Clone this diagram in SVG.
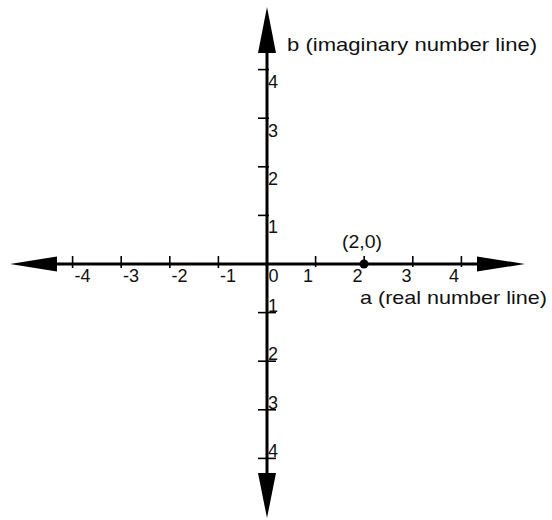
<svg xmlns="http://www.w3.org/2000/svg" width="552" height="520" viewBox="0 0 552 520">
<style>
.axis{stroke:#000;stroke-width:3;fill:none}
.tick{stroke:#000;stroke-width:1.6;fill:none}
.head{fill:#000;stroke:none}
text{font-family:"Liberation Sans","DejaVu Sans",Arial,sans-serif;fill:#111}
.num{font-size:18px}
.lbl{font-size:19px}
</style>
<rect width="552" height="520" fill="#fff"/>
<g id="axes">
<line class="axis" x1="50" y1="264" x2="485" y2="264"/>
<line class="axis" x1="267" y1="45" x2="267" y2="480"/>
<polygon class="head" points="10,264 57,256.5 57,271.5"/>
<polygon class="head" points="525,264 477,256.5 477,271.5"/>
<polygon class="head" points="267,7 258,53 276,53"/>
<polygon class="head" points="267,518 258,473 276,473"/>
</g>
<g id="ticks">
<line class="tick" x1="72.6" y1="256" x2="72.6" y2="268"/>
<line class="tick" x1="121.2" y1="256" x2="121.2" y2="268"/>
<line class="tick" x1="169.8" y1="256" x2="169.8" y2="268"/>
<line class="tick" x1="218.4" y1="256" x2="218.4" y2="268"/>
<line class="tick" x1="315.6" y1="256" x2="315.6" y2="267"/>
<line class="tick" x1="364.2" y1="256" x2="364.2" y2="267"/>
<line class="tick" x1="412.8" y1="256" x2="412.8" y2="267"/>
<line class="tick" x1="461.4" y1="256" x2="461.4" y2="267"/>
<line class="tick" x1="258" y1="69.6" x2="269" y2="69.6"/>
<line class="tick" x1="258" y1="118.2" x2="269" y2="118.2"/>
<line class="tick" x1="258" y1="166.8" x2="269" y2="166.8"/>
<line class="tick" x1="258" y1="215.4" x2="269" y2="215.4"/>
<line class="tick" x1="258" y1="312.6" x2="276" y2="312.6"/>
<line class="tick" x1="258" y1="361.2" x2="276" y2="361.2"/>
<line class="tick" x1="258" y1="409.8" x2="276" y2="409.8"/>
<line class="tick" x1="258" y1="458.4" x2="276" y2="458.4"/>
</g>
<g id="tick-labels" class="num">
<text x="74.5" y="282">-4</text>
<text x="123" y="282">-3</text>
<text x="171.5" y="282">-2</text>
<text x="220" y="282">-1</text>
<text x="268.5" y="282">0</text>
<text x="313" y="282" text-anchor="end">1</text>
<text x="362.5" y="282" text-anchor="end">2</text>
<text x="411.5" y="282" text-anchor="end">3</text>
<text x="459" y="282" text-anchor="end">4</text>
<text x="268" y="88">4</text>
<text x="268" y="136.5">3</text>
<text x="268" y="185">2</text>
<text x="268" y="233">1</text>
<text x="268" y="311.5">1</text>
<text x="268" y="360">2</text>
<text x="268" y="408.5">3</text>
<text x="268" y="457">4</text>
</g>
<g id="point">
<circle cx="364" cy="264" r="4.5" fill="#000"/>
<text class="num" x="342" y="248" textLength="40" lengthAdjust="spacingAndGlyphs">(2,0)</text>
</g>
<g id="axis-labels" class="lbl">
<text x="287" y="51" textLength="250" lengthAdjust="spacingAndGlyphs">b (imaginary number line)</text>
<text x="360" y="304" textLength="187" lengthAdjust="spacingAndGlyphs">a (real number line)</text>
</g>
</svg>
